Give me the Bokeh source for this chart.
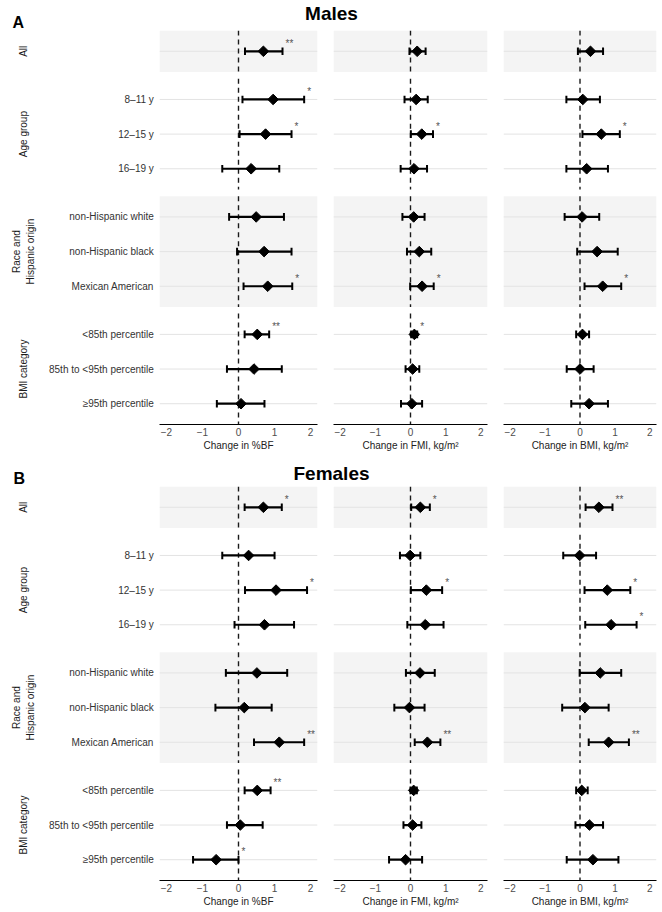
import math
from bokeh.plotting import figure
from bokeh.models import Range1d, ColumnDataSource, FixedTicker
from bokeh.layouts import row, column
from bokeh.embed import file_html
from bokeh.resources import INLINE
from bokeh.core.properties import value

# ---------------- data ----------------
group_names = ["All", "Age group", "Race and\nHispanic origin", "BMI category"]
group_shaded = [True, False, True, False]
group_rows = [
    [""],
    ["8–11 y", "12–15 y", "16–19 y"],
    ["non-Hispanic white", "non-Hispanic black", "Mexican American"],
    ["<85th percentile", "85th to <95th percentile", "≥95th percentile"],
]

x_ticks = [-2, -1, 0, 1, 2]
x_labels = ["Change in %BF", "Change in FMI, kg/m²", "Change in BMI, kg/m²"]
panel_titles = ["Males", "Females"]
panel_letters = ["A", "B"]

# Males
m_bf_est = [0.69, 0.96, 0.75, 0.35, 0.49, 0.71, 0.81, 0.52, 0.43, 0.07]
m_bf_lo = [0.18, 0.11, 0.03, -0.45, -0.26, -0.04, 0.14, 0.17, -0.32, -0.60]
m_bf_hi = [1.22, 1.82, 1.47, 1.13, 1.26, 1.47, 1.49, 0.85, 1.20, 0.72]
m_bf_sig = ["**", "*", "*", "", "", "", "*", "**", "", ""]

m_fmi_est = [0.19, 0.16, 0.32, 0.10, 0.09, 0.25, 0.33, 0.11, 0.06, 0.04]
m_fmi_lo = [-0.03, -0.17, 0.01, -0.28, -0.23, -0.10, -0.01, 0.02, -0.14, -0.27]
m_fmi_hi = [0.43, 0.49, 0.64, 0.47, 0.40, 0.59, 0.66, 0.19, 0.25, 0.33]
m_fmi_sig = ["", "", "*", "", "", "", "*", "*", "", ""]

m_bmi_est = [0.30, 0.08, 0.61, 0.19, 0.06, 0.49, 0.65, 0.07, 0.00, 0.26]
m_bmi_lo = [-0.06, -0.39, 0.07, -0.39, -0.44, -0.08, 0.13, -0.11, -0.38, -0.25]
m_bmi_hi = [0.66, 0.57, 1.14, 0.80, 0.55, 1.08, 1.18, 0.26, 0.39, 0.80]
m_bmi_sig = ["", "", "*", "", "", "", "*", "", "", ""]

# Females
f_bf_est = [0.69, 0.28, 1.04, 0.72, 0.51, 0.16, 1.13, 0.52, 0.05, -0.62]
f_bf_lo = [0.17, -0.45, 0.18, -0.11, -0.35, -0.64, 0.43, 0.17, -0.32, -1.26]
f_bf_hi = [1.20, 1.00, 1.90, 1.54, 1.35, 0.92, 1.82, 0.89, 0.67, 0.00]
f_bf_sig = ["*", "", "*", "", "", "", "**", "**", "", "*"]

f_fmi_est = [0.28, -0.01, 0.45, 0.42, 0.27, -0.03, 0.48, 0.09, 0.06, -0.14]
f_fmi_lo = [0.02, -0.30, 0.01, -0.09, -0.13, -0.46, 0.12, 0.00, -0.20, -0.61]
f_fmi_hi = [0.55, 0.28, 0.90, 0.94, 0.69, 0.40, 0.85, 0.18, 0.31, 0.33]
f_fmi_sig = ["*", "", "*", "", "", "", "**", "", "", ""]

f_bmi_est = [0.54, -0.01, 0.78, 0.89, 0.58, 0.14, 0.82, 0.05, 0.27, 0.37]
f_bmi_lo = [0.16, -0.48, 0.13, 0.15, -0.01, -0.51, 0.25, -0.11, -0.13, -0.38]
f_bmi_hi = [0.93, 0.46, 1.44, 1.62, 1.18, 0.82, 1.40, 0.22, 0.66, 1.10]
f_bmi_sig = ["**", "", "*", "*", "", "", "**", "", "", ""]

# ---------------- layout helpers ----------------
FONT = value("Liberation Sans")
PAD = 0.6
GAP = 0.19
XMIN, XMAX = -2.19, 2.19

row_y, row_lab, f_top, f_bot, f_mid = [], [], [], [], []
yy = 0.0
for rows in group_rows:
    top = yy
    for i, lab in enumerate(rows):
        row_y.append(top + PAD + i)
        row_lab.append(lab)
    bot = top + 2 * PAD + len(rows) - 1
    f_top.append(top)
    f_bot.append(bot)
    f_mid.append((top + bot) / 2)
    yy = bot + GAP
YMAX = f_bot[-1]

FRAME_H = 394
BOTTOM = 30
H = FRAME_H + BOTTOM
TOTAL_W = 660


def style_plain(p):
    p.outline_line_color = None
    p.background_fill_color = "white"
    p.border_fill_color = "white"
    p.grid.visible = False


def header(letter, title, height, x_letter, y_letter, y_title):
    p = figure(width=TOTAL_W, height=height, x_range=Range1d(0, TOTAL_W), y_range=Range1d(height, 0),
               x_axis_location=None, y_axis_location=None, toolbar_location=None,
               output_backend="svg", min_border=0)
    style_plain(p)
    p.text(x=[x_letter], y=[y_letter], text=[letter], text_font=FONT, text_font_size="16px",
           text_font_style="bold", text_align="left", text_baseline="middle", text_color="black")
    p.text(x=[331], y=[y_title], text=[title], text_font=FONT, text_font_size="19px",
           text_font_style="bold", text_align="center", text_baseline="middle", text_color="black")
    return p


def label_fig(yr):
    W = 159
    p = figure(width=W, height=H, x_range=Range1d(0, W), y_range=yr,
               x_axis_location=None, y_axis_location=None, toolbar_location=None,
               output_backend="svg", min_border_left=0, min_border_right=0,
               min_border_top=0, min_border_bottom=BOTTOM)
    style_plain(p)
    p.text(x=[153.3] * len(row_y), y=row_y, text=row_lab, text_font=FONT, text_font_size="10px",
           text_align="right", text_baseline="middle", text_color="#333333")
    p.text(x=[23] * len(group_names), y=f_mid, text=group_names, text_font=FONT,
           text_font_size="10px", text_align="center", text_baseline="middle",
           angle=math.pi / 2, text_color="#1a1a1a")
    return p


def col_fig(yr, est, lo, hi, sig, xlabel, width, mbl, mbr):
    p = figure(width=width, height=H, x_range=Range1d(XMIN, XMAX), y_range=yr,
               y_axis_location=None, toolbar_location=None, output_backend="svg",
               min_border_left=mbl, min_border_right=mbr, min_border_top=0,
               min_border_bottom=BOTTOM)
    style_plain(p)
    # shaded facets
    st = [t for t, s in zip(f_top, group_shaded) if s]
    sb = [b for b, s in zip(f_bot, group_shaded) if s]
    p.quad(left=[XMIN] * len(st), right=[XMAX] * len(st), top=st, bottom=sb,
           fill_color="#f4f4f4", line_color=None)
    # row grid lines
    p.segment(x0=[XMIN] * len(row_y), x1=[XMAX] * len(row_y), y0=row_y, y1=row_y,
              line_color="#e3e3e3", line_width=1)
    # zero line per facet
    p.segment(x0=[0] * len(f_top), x1=[0] * len(f_top), y0=f_top, y1=f_bot,
              line_color="#1a1a1a", line_width=1.4, line_dash="5 4")
    src = ColumnDataSource(dict(y=row_y, est=est, lo=lo, hi=hi, sig=sig,
                                ylo=[v - 0.11 for v in row_y], yhi=[v + 0.11 for v in row_y]))
    p.segment(x0="lo", x1="hi", y0="y", y1="y", source=src, line_color="black", line_width=2.2)
    p.segment(x0="lo", x1="lo", y0="ylo", y1="yhi", source=src, line_color="black", line_width=2)
    p.segment(x0="hi", x1="hi", y0="ylo", y1="yhi", source=src, line_color="black", line_width=2)
    p.scatter(x="est", y="y", source=src, marker="square", angle=math.pi / 4, size=7.5,
              fill_color="black", line_color="black")
    p.text(x="hi", y="y", text="sig", source=src, x_offset=3, y_offset=-8,
           text_font=FONT, text_font_size="10px", text_align="left",
           text_baseline="middle", text_color="#555555")
    ax = p.xaxis[0]
    ax.ticker = FixedTicker(ticks=x_ticks)
    ax.major_label_overrides = {t: (("−" + str(-t)) if t < 0 else str(t)) for t in x_ticks}
    ax.major_tick_out = 0
    ax.major_tick_in = 0
    ax.minor_tick_out = 0
    ax.minor_tick_in = 0
    ax.axis_line_color = "black"
    ax.axis_line_width = 1.2
    ax.major_label_standoff = 3
    ax.major_label_text_font = "Liberation Sans"
    ax.major_label_text_font_size = "10px"
    ax.major_label_text_color = "#4d4d4d"
    ax.axis_label = xlabel
    ax.axis_label_standoff = 1
    ax.axis_label_text_font = "Liberation Sans"
    ax.axis_label_text_font_size = "10px"
    ax.axis_label_text_font_style = "normal"
    ax.axis_label_text_color = "#222222"
    return p


def panel(series):
    yr = Range1d(YMAX, 0)
    lab = label_fig(yr)
    specs = [(166, 0, 8), (170, 8, 8), (165, 8, 4)]
    figs = [lab]
    for (est, lo, hi, sig), xl, (w, l, r) in zip(series, x_labels, specs):
        figs.append(col_fig(yr, est, lo, hi, sig, xl, w, l, r))
    return row(*figs, spacing=0)


males = [(m_bf_est, m_bf_lo, m_bf_hi, m_bf_sig),
         (m_fmi_est, m_fmi_lo, m_fmi_hi, m_fmi_sig),
         (m_bmi_est, m_bmi_lo, m_bmi_hi, m_bmi_sig)]
females = [(f_bf_est, f_bf_lo, f_bf_hi, f_bf_sig),
           (f_fmi_est, f_fmi_lo, f_fmi_hi, f_fmi_sig),
           (f_bmi_est, f_bmi_lo, f_bmi_hi, f_bmi_sig)]

hA = header(panel_letters[0], panel_titles[0], 30, 12, 22, 13)
pA = panel(males)
hB = header(panel_letters[1], panel_titles[1], 32, 13, 23.5, 19)
pB = panel(females)

layout = column(hA, pA, hB, pB, spacing=0)

open("out.html", "w").write(file_html(layout, INLINE))
